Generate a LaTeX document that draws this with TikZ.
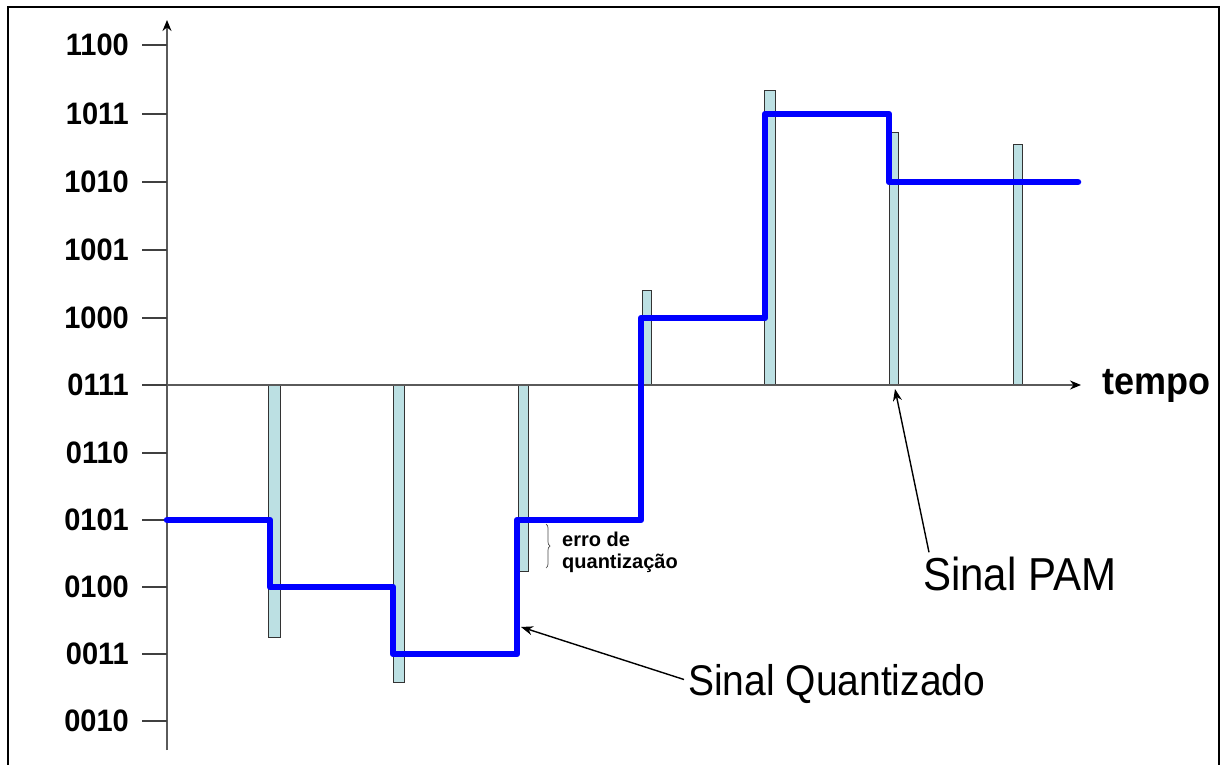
\documentclass[tikz,border=0pt]{standalone}
\usepackage{graphicx}
\usepackage{fontspec}
\setmainfont{Liberation Sans}
\usetikzlibrary{arrows.meta,decorations.pathreplacing}
\definecolor{barfill}{HTML}{BCE0E3}
\definecolor{axisgray}{HTML}{5A5A5A}
\definecolor{qblue}{HTML}{0000FF}
\newcommand\vstretch[2]{\scalebox{1}[#1]{#2}}
\begin{document}
\begin{tikzpicture}[x=1pt,y=-1pt,
  frame/.style={draw=black,line width=2.6pt},
  axis/.style={draw=axisgray,line width=1.6pt},
  axistip/.style={-{Stealth[length=11pt,width=9pt,color=black]}},
  tickline/.style={draw=black!75,line width=1.2pt},
  lvl/.style={anchor=east,inner sep=0pt,font=\fontsize{29}{29}\selectfont\bfseries},
  sample/.style={draw=black!80,line width=1pt,fill=barfill},
  quant/.style={draw=qblue,line width=6.5pt,line join=round,line cap=round},
  callout/.style={draw=black,line width=1.4pt,-{Stealth[length=12pt,width=9pt]}},
  bigtext/.style={anchor=base west,inner sep=0pt},
  smalltext/.style={anchor=base west,inner sep=0pt,font=\fontsize{20}{22}\selectfont\bfseries},
]
\useasboundingbox (0,0) rectangle (1221,765);
\fill[white] (0,0) rectangle (1221,765);
% frame (open at the bottom)
\draw[frame] (8,766) -- (8,7) -- (1219,7) -- (1219,766);

% PAM samples
\foreach \xa/\xb/\ya/\yb in {268/280/385/637, 393/404/385/682, 518/528/385/571,
  642/651/290/385, 764/775/91/385, 889/898/133/385, 1013/1022/145/385}
  \draw[sample] (\xa,\ya) rectangle (\xb,\yb);

% axes
\coordinate (o) at (167,750);
\coordinate (ytop) at (167,20);
\coordinate (xo) at (167,385);
\coordinate (xend) at (1081,385);
\draw[axis,axistip] (o) -- (ytop);
\draw[axis,axistip] (xo) -- (xend);

% level ticks and labels
\foreach \y/\t in {45/1100, 114/1011, 182/1010, 250/1001, 318/1000, 385/0111,
  453/0110, 520/0101, 587/0100, 654/0011, 721/0010}{
  \draw[tickline] (142,\y) -- (167,\y);
  \node[lvl] (l\t) at (129,\y) {\vstretch{1.07}{\t}};
}

\node[anchor=west,inner sep=0pt,font=\fontsize{36}{36}\selectfont\bfseries] (tempo) at (1102,386) {\vstretch{1.07}{tempo}};

% quantized signal
\draw[quant] (167,520) -- (270,520) -- (270,587) -- (393,587) -- (393,654)
  -- (517,654) -- (517,520) -- (641,520) -- (641,318) -- (765,318)
  -- (765,114) -- (889,114) -- (889,182) -- (1078,182);

% quantization error brace and label
\draw[decorate,decoration={brace,amplitude=4pt},draw=black!70,line width=0.7pt] (546,524) -- (546,568);
\node[smalltext] (erro1) at (562,546) {erro de};
\node[smalltext] (erro2) at (562,568) {quantização};

% callouts
\node[bigtext,font=\fontsize{39}{39}\selectfont] (sq) at (688,695) {\vstretch{1.1}{Sinal Quantizado}};
\node[bigtext,font=\fontsize{42}{42}\selectfont] (spam) at (923,590) {\vstretch{1.1}{Sinal PAM}};
\coordinate (sqtip) at (521,627);
\coordinate (pamtip) at (895,389);
\draw[callout] ([xshift=-4pt,yshift=4pt]sq.west) -- (sqtip);
\draw[callout] ([xshift=6pt,yshift=4pt]spam.north west) -- (pamtip);
\end{tikzpicture}
\end{document}
